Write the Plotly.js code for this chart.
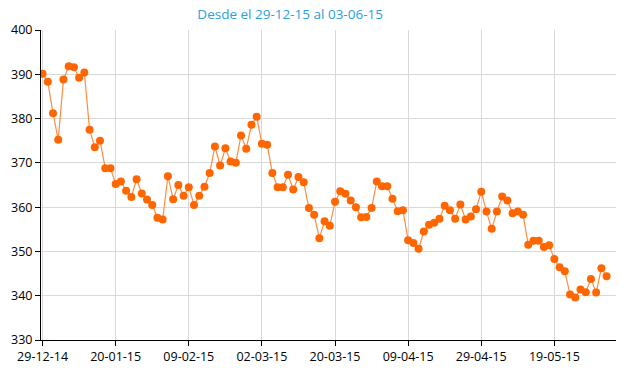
<!DOCTYPE html>
<html><head><meta charset="utf-8">
<script src="https://cdn.plot.ly/plotly-3.0.1.min.js"></script>
<style>html,body{margin:0;padding:0;background:#fff}#chart{width:620px;height:375px}</style>
</head><body><div id="chart"></div>
<script>
const titleText = 'Desde el 29-12-15 al 03-06-15';
const tickLabels = ['29-12-14','20-01-15','09-02-15','02-03-15','20-03-15','09-04-15','29-04-15','19-05-15'];
const tickStep = 14;
const values = [
  390.1, 388.3, 381.2, 375.2, 388.8, 391.8, 391.6, 389.2, 390.4, 377.5,
  373.5, 375.0, 368.8, 368.8, 365.2, 365.8, 363.7, 362.3, 366.3, 363.1,
  361.7, 360.5, 357.6, 357.2, 367.0, 361.8, 365.0, 362.6, 364.5, 360.5,
  362.6, 364.6, 367.7, 373.7, 369.4, 373.3, 370.3, 370.0, 376.2, 373.2,
  378.6, 380.4, 374.3, 374.1, 367.7, 364.5, 364.5, 367.3, 364.0, 366.8,
  365.6, 359.8, 358.3, 353.0, 356.8, 355.8, 361.2, 363.6, 363.0, 361.5,
  360.0, 357.7, 357.8, 359.8, 365.8, 364.7, 364.7, 361.9, 359.1, 359.3,
  352.5, 351.9, 350.6, 354.5, 356.0, 356.5, 357.4, 360.3, 359.3, 357.4,
  360.6, 357.2, 357.9, 359.5, 363.5, 359.0, 355.1, 359.0, 362.4, 361.5,
  358.6, 359.0, 358.3, 351.5, 352.4, 352.4, 351.0, 351.4, 348.3, 346.4,
  345.5, 340.3, 339.6, 341.4, 340.8, 343.8, 340.7, 346.2, 344.4
];
const yTicks = [330, 340, 350, 360, 370, 380, 390, 400];

const x = values.map((_, i) => i);
const tickvals = tickLabels.map((_, i) => i * tickStep);

const trace = {
  x: x, y: values, type: 'scatter', mode: 'lines+markers',
  line: {color: '#ff8c42', width: 1.2},
  marker: {color: '#ff6600', size: 8},
  hoverinfo: 'skip'
};

const layout = {
  width: 620, height: 375,
  margin: {l: 41, r: 4, t: 30, b: 35},
  paper_bgcolor: '#ffffff', plot_bgcolor: '#ffffff',
  showlegend: false,
  font: {family: 'Open Sans, Noto Sans, sans-serif', size: 12, color: '#000'},
  title: {
    text: titleText, xref: 'container', yref: 'container',
    x: 0.468, xanchor: 'center', y: 1 - 14/375, yanchor: 'middle',
    font: {family: 'Open Sans, Noto Sans, sans-serif', size: 13.5, color: '#2a9fdc'}
  },
  xaxis: {
    range: [-0.3, 109.8], tickmode: 'array', tickvals: tickvals, ticktext: tickLabels,
    showgrid: true, gridcolor: '#d9d9d9', gridwidth: 1,
    showline: true, linecolor: '#000', linewidth: 1,
    ticks: 'outside', ticklen: 5, tickcolor: '#000',
    zeroline: false, tickfont: {size: 12.5, color: '#000'}
  },
  yaxis: {
    range: [330, 400], tickmode: 'array', tickvals: yTicks,
    showgrid: true, gridcolor: '#d9d9d9', gridwidth: 1,
    showline: true, linecolor: '#000', linewidth: 1,
    ticks: 'outside', ticklen: 5, tickcolor: '#000',
    zeroline: false, tickfont: {size: 12.5, color: '#000'}
  }
};

Plotly.newPlot('chart', [trace], layout, {displayModeBar: false, staticPlot: true});
</script>
</body></html>
